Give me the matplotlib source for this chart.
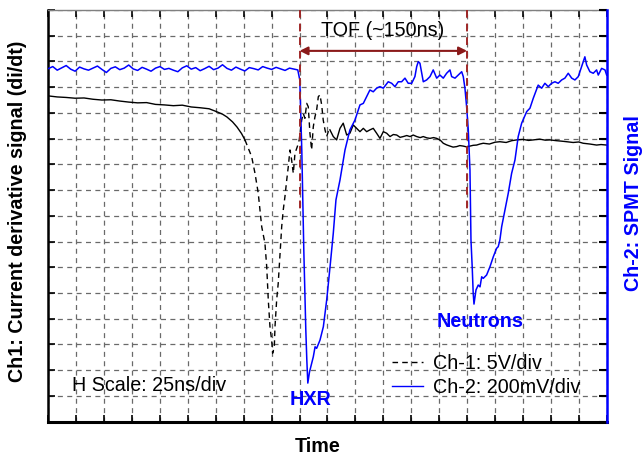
import numpy as np
import matplotlib.pyplot as plt
from matplotlib.lines import Line2D

plt.rcParams['font.family'] = ['Liberation Sans', 'DejaVu Sans']

# time in ns (25 ns/div), signal in screen divisions (0 = bottom, 16 = top)
ch1_t = [0, 8, 16, 24, 32, 40, 48, 56, 64, 72, 80, 88, 96, 104, 112, 120, 128, 136, 144,
         150, 156, 160, 165, 169, 173, 176.1, 182.1, 185.1, 188.0, 191.1, 194.0, 195.6, 197.0,
         198.5, 200.0, 200.9, 202.4, 203.0, 204.5, 205.9, 206.8, 208.1, 209.0, 210.4, 211.9,
         213.5, 214.9, 216.4, 217.9, 219.4, 220.9, 223.0, 224.7, 226.9, 228.3, 229.8, 231.4,
         232.8, 234.3, 235.8, 237.3, 238.8, 240.3, 241.8, 243.3, 244.8, 246.2, 247.8, 249.3,
         250.7, 252.2, 255.2, 258.2, 261.2, 264.1, 267.2, 270.1, 273.1, 276.1, 279.1, 282.1,
         285.1, 288.0, 291.0, 294.0, 297.0, 300.0, 303.0, 306.0, 309.0, 312.0, 315.0, 317.9,
         321.0, 323.9, 326.8, 329.9, 333.0, 335.8, 339.0, 341.8, 345.0, 347.8, 351.0, 353.7,
         356.5, 359.7, 362.5, 365.7, 368.5, 371.6, 374.5, 377.6, 380.5, 383.6, 386.5, 389.5,
         395.0, 400.0, 404.4, 410.0, 415.0, 419.4, 425.3, 430.0, 434.3, 440.0, 445.0, 449.2,
         455.0, 460.0, 464.2, 470.0, 475.0, 479.0, 485.0, 491.0, 495.0, 500.0]
ch1_v = [12.66, 12.62, 12.60, 12.57, 12.58, 12.53, 12.50, 12.51, 12.46, 12.42, 12.39, 12.40,
         12.33, 12.31, 12.28, 12.30, 12.23, 12.20, 12.16, 12.06, 11.95, 11.84, 11.65, 11.45,
         11.20, 10.95, 10.30, 9.65, 8.88, 7.58, 6.93, 6.02, 4.73, 3.69, 3.17, 2.66, 2.91, 3.69,
         4.73, 5.38, 6.02, 6.93, 7.58, 8.23, 8.74, 9.39, 9.91, 10.56, 10.17, 9.65, 10.43, 10.69,
         10.95, 11.72, 11.98, 11.79, 12.37, 12.24, 11.21, 10.56, 11.46, 11.85, 12.11, 12.63,
         12.70, 12.31, 11.72, 11.34, 11.08, 11.27, 11.34, 11.08, 10.95, 11.40, 11.60, 11.14,
         11.21, 11.53, 11.40, 11.27, 11.40, 11.27, 11.34, 11.40, 11.21, 11.01, 11.27, 11.21,
         11.08, 11.16, 11.14, 11.05, 11.08, 11.12, 11.08, 11.14, 11.08, 11.04, 11.08, 11.03,
         11.01, 11.04, 11.01, 10.94, 10.82, 10.76, 10.71, 10.67, 10.69, 10.73, 10.71, 10.68,
         10.71, 10.74, 10.75, 10.79, 10.82, 10.79, 10.86, 10.88, 10.85, 10.92, 10.95, 10.97,
         10.93, 10.95, 10.98, 10.94, 10.95, 10.92, 10.90, 10.88, 10.85, 10.87, 10.82, 10.79,
         10.75, 10.77, 10.75]

ch2_t = [0, 4, 8, 12, 16, 20, 24, 28, 32, 36, 40, 44, 48, 52, 56, 60, 64, 68, 72, 76, 80, 84,
         88, 92, 96, 100, 104, 108, 112, 116, 120, 124, 128, 132, 136, 140, 144, 148, 152, 156,
         160, 164, 168, 172, 176, 180, 184, 188, 192, 196, 200, 204, 208, 212, 216, 220,
         223.4, 225.2, 227.0, 228.8, 230.6, 231.5, 232.4, 233.9, 237.3, 238.9, 240.3, 243.3,
         246.3, 249.3, 252.3, 255.2, 257.6, 261.2, 265.7, 270.1, 274.6, 279.1, 282.1, 285.1,
         288.0, 291.0, 294.0, 297.0, 300.0, 304.4, 307.5, 310.4, 313.4, 316.4, 319.4, 322.3,
         325.4, 328.3, 329.9, 331.3, 332.8, 335.8, 338.8, 341.8, 344.7, 347.8, 350.7, 353.7,
         356.7, 359.7, 361.2, 364.2, 367.1, 370.2, 371.6, 373.1, 374.6, 376.1, 377.6, 378.5,
         379.6, 380.5, 381.2, 383.0, 385.0, 386.6, 388.1, 389.5, 392.5, 395.5, 398.5, 401.5,
         402.9, 404.4, 406.0, 408.9, 411.9, 414.9, 417.9, 420.8, 423.9, 428.4, 431.3, 434.3,
         438.7, 441.8, 444.7, 447.7, 450.7, 453.7, 456.6, 459.7, 462.6, 465.6, 468.7, 471.6,
         474.6, 477.6, 480.5, 482.1, 485.0, 488.0, 491.0, 492.5, 495.5, 498.5, 500.0]
ch2_v = [13.72, 13.80, 13.66, 13.75, 13.84, 13.70, 13.62, 13.78, 13.71, 13.66, 13.74, 13.82,
         13.69, 13.57, 13.73, 13.79, 13.68, 13.74, 13.86, 13.71, 13.65, 13.77, 13.70, 13.62,
         13.74, 13.80, 13.69, 13.73, 13.66, 13.60, 13.75, 13.83, 13.70, 13.76, 13.64, 13.72,
         13.81, 13.68, 13.74, 13.87, 13.73, 13.66, 13.78, 13.70, 13.63, 13.76, 13.72, 13.67,
         13.80, 13.74, 13.69, 13.77, 13.71, 13.65, 13.74, 13.70,
         13.67, 13.28, 10.56, 6.67, 3.56, 2.40, 1.50, 1.93, 2.52, 2.91, 2.85, 3.17, 3.69, 4.73,
         6.02, 7.32, 8.62, 9.39, 10.56, 11.34, 11.72, 12.31, 12.37, 12.63, 12.89, 12.82, 12.96,
         13.02, 12.96, 13.21, 13.15, 13.02, 13.21, 13.21, 13.35, 13.15, 13.15, 13.41, 13.80,
         13.99, 13.93, 13.21, 13.28, 13.41, 13.67, 13.35, 13.47, 13.35, 13.54, 13.67, 13.41,
         13.35, 13.47, 13.60, 13.41, 12.96, 12.24, 11.34, 9.78, 7.06, 6.02, 4.99, 4.57, 5.12,
         5.31, 5.24, 5.63, 5.57, 5.70, 6.02, 6.41, 6.74, 6.80, 7.06, 7.58, 8.23, 8.88, 9.65,
         10.17, 11.08, 11.60, 12.05, 12.18, 12.57, 13.08, 12.96, 13.15, 13.02, 13.15, 13.21,
         13.15, 13.28, 13.35, 13.54, 13.35, 13.28, 13.41, 13.80, 14.18, 13.86, 13.60, 13.54,
         13.67, 13.47, 13.73, 13.67, 13.47]

tof_start, tof_end = 225, 375      # ns, HXR arrival -> neutron arrival
dash_from, dash_to = 176.1, 252.2  # the fast part of ch1 shows up dashed on the scope

blue = '#0000ff'
darkred = '#8b1a1a'
fs = 14.2

fig = plt.figure(figsize=(6.44, 4.59), dpi=100)
ax = fig.add_axes([0.075, 0.0813, 0.867, 0.897])
ax.set_xlim(0, 500)
ax.set_ylim(0, 16)
ax.set_xticks(np.arange(0, 501, 25))
ax.set_yticks(np.arange(0, 17, 1))
ax.grid(True, color='#6a6a6a', linestyle=(0, (4, 3.5)), linewidth=0.9)
ax.tick_params(direction='in', length=5, width=1.2, top=True, color='black',
               labelbottom=False, labelleft=False)
ax.spines['left'].set_linewidth(1.8)
ax.spines['bottom'].set_linewidth(2.2)
ax.spines['top'].set_color('#808080')
ax.spines['top'].set_linewidth(1.0)
ax.spines['right'].set_visible(False)

# ch-1, solid where slow, dashed over the fast swing
t1 = np.array(ch1_t)
v1 = np.array(ch1_v)
m_a = t1 <= dash_from
m_b = (t1 >= dash_from) & (t1 <= dash_to)
m_c = t1 >= dash_to
ax.plot(t1[m_a], v1[m_a], color='black', lw=1.0)
ax.plot(t1[m_b], v1[m_b], color='black', lw=1.0, linestyle=(0, (4, 3)))
ax.plot(t1[m_c], v1[m_c], color='black', lw=1.0)

ax2 = ax.twinx()
ax2.set_ylim(0, 16)
ax2.set_yticks(np.arange(0, 17, 1))
ax2.tick_params(direction='in', length=6, width=1.5, color='black', labelright=False)
for s in ['left', 'top', 'bottom']:
    ax2.spines[s].set_visible(False)
ax2.spines['right'].set_color(blue)
ax2.spines['right'].set_linewidth(1.8)
ax2.plot(ch2_t, ch2_v, color=blue, lw=1.1)

# TOF markers
for tm in [tof_start, tof_end]:
    ax2.plot([tm, tm], [16, 8.2], color='#a02828', lw=1.4, linestyle=(0, (4, 3)))
ax2.annotate('', xy=(tof_end, 14.41), xytext=(tof_start, 14.41),
             arrowprops=dict(arrowstyle='<|-|>', color=darkred, lw=1.5,
                             shrinkA=0, shrinkB=0, mutation_scale=12))
ax2.text(299, 15.22, 'TOF (~150ns)', ha='center', va='center', fontsize=fs)

ax2.text(21, 1.42, 'H Scale: 25ns/div', ha='left', va='center', fontsize=fs)
ax2.text(235, 0.88, 'HXR', ha='center', va='center', fontsize=fs,
         fontweight='bold', color=blue)
ax2.text(386.5, 3.88, 'Neutrons', ha='center', va='center', fontsize=fs,
         fontweight='bold', color=blue)

handles = [Line2D([], [], color='black', lw=1.0, linestyle=(0, (4, 3))),
           Line2D([], [], color=blue, lw=1.0)]
ax2.legend(handles, ['Ch-1: 5V/div', 'Ch-2: 200mV/div'], loc='center left',
           bbox_to_anchor=(0.615, 0.113), frameon=False, fontsize=fs,
           handlelength=1.6, handletextpad=0.5, labelspacing=0.25,
           borderpad=0, borderaxespad=0)

ax.set_ylabel('Ch1: Current derivative signal (di/dt)', fontsize=fs, fontweight='bold')
ax.yaxis.set_label_coords(-0.038, 0.51)
ax2.set_ylabel('Ch-2: SPMT Signal', fontsize=fs, fontweight='bold', color=blue)
ax2.yaxis.set_label_coords(1.031, 0.532)
ax.set_xlabel('Time', fontsize=fs, fontweight='bold')
ax.xaxis.set_label_coords(0.483, -0.037)

fig.savefig('out.png', dpi=100)
